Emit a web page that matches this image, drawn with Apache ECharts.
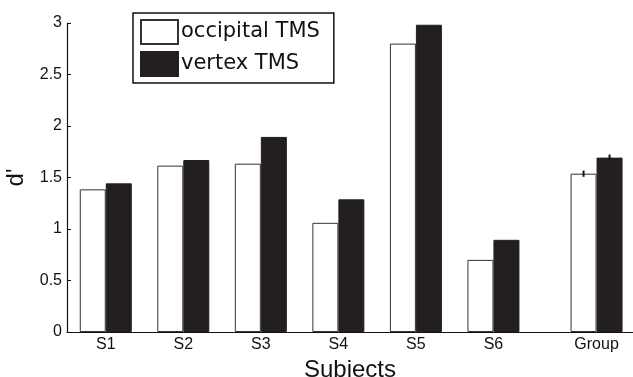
<!DOCTYPE html>
<html>
<head>
<meta charset="utf-8">
<script src="https://cdn.jsdelivr.net/npm/echarts@6/dist/echarts.min.js"></script>
<style>html,body{margin:0;padding:0;background:#fff}#c{width:633px;height:377px}</style>
</head>
<body>
<div id="c"></div>
<script>
var categories = ['S1', 'S2', 'S3', 'S4', 'S5', 'S6', 'Group'];
var xPositions = [1, 2, 3, 4, 5, 6, 7.33];
var occipital = [1.385, 1.615, 1.634, 1.06, 2.8, 0.70, 1.537];
var vertex = [1.443, 1.670, 1.894, 1.288, 2.983, 0.895, 1.693];
var groupErrOcc = 0.03;
var groupErrVer = 0.03;

var font = 'Liberation Sans, Arial, Helvetica, sans-serif';
function pairs(vals) { return vals.map(function (v, i) { return [xPositions[i], v]; }); }
var gi = categories.length - 1;
var errData = [
  [xPositions[gi], occipital[gi] - groupErrOcc, occipital[gi] + groupErrOcc, -1],
  [xPositions[gi], vertex[gi] - groupErrVer, vertex[gi] + groupErrVer, 1]
];

var chart = echarts.init(document.getElementById('c'));
chart.setOption({
  animation: false,
  backgroundColor: '#fff',
  grid: { left: 67, right: 0, top: 23, bottom: 45, containLabel: false, outerBoundsMode: 'none' },
  legend: {
    orient: 'vertical', left: 133, top: 13,
    padding: [6, 14, 6, 7],
    itemWidth: 37, itemHeight: 24, itemGap: 6,
    borderColor: '#111', borderWidth: 1.5, backgroundColor: '#fff',
    textStyle: { fontFamily: 'DejaVu Sans, sans-serif', fontSize: 21, color: '#111', padding: [0, 0, 0, -2] },
    data: [{ name: 'occipital TMS', icon: 'rect' }, { name: 'vertex TMS', icon: 'rect' }]
  },
  xAxis: {
    type: 'value', min: 0.5, max: 7.8,
    splitLine: { show: false },
    axisLine: { lineStyle: { color: '#111', width: 1.2 } },
    axisTick: { show: false },
    axisLabel: {
      customValues: xPositions,
      fontFamily: font, fontSize: 16, color: '#111', margin: 5,
      formatter: function (v) {
        var i = xPositions.indexOf(v);
        return i >= 0 ? categories[i] : '';
      }
    },
    name: 'Subjects', nameLocation: 'middle', nameGap: 18,
    nameTextStyle: { fontFamily: font, fontSize: 24, color: '#111' }
  },
  yAxis: {
    type: 'value', min: 0, max: 3, interval: 0.5,
    splitLine: { show: false },
    axisLine: { show: true, lineStyle: { color: '#111', width: 1.2 } },
    axisTick: { show: true, inside: true, length: 4, lineStyle: { color: '#111' } },
    axisLabel: { fontFamily: font, fontSize: 16, color: '#111', margin: 5 },
    name: "d'", nameLocation: 'middle', nameGap: 38, nameRotate: 90,
    nameTextStyle: { fontFamily: font, fontSize: 24, color: '#111' }
  },
  series: [
    {
      name: 'occipital TMS', type: 'bar', barWidth: 26, barGap: '0%',
      itemStyle: { color: '#fff', borderColor: '#333', borderWidth: 1 },
      data: pairs(occipital)
    },
    {
      name: 'vertex TMS', type: 'bar', barWidth: 26, barGap: '0%',
      itemStyle: { color: '#231f20', borderColor: '#231f20', borderWidth: 1 },
      data: pairs(vertex)
    },
    {
      type: 'custom', z: 10, silent: true,
      data: errData,
      renderItem: function (params, api) {
        var lo = api.coord([api.value(0), api.value(1)]);
        var hi = api.coord([api.value(0), api.value(2)]);
        var x = lo[0] + api.value(3) * 13;
        return {
          type: 'line',
          shape: { x1: x, y1: lo[1], x2: x, y2: hi[1] },
          style: { stroke: '#111', lineWidth: 2 }
        };
      }
    }
  ]
});
</script>
</body>
</html>
